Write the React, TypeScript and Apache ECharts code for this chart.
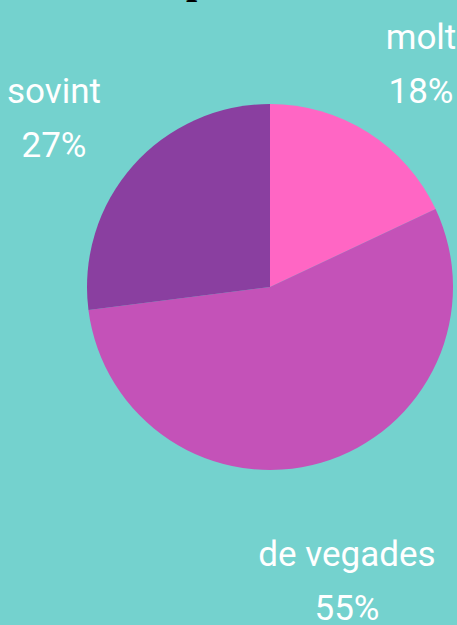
import React, { useEffect, useRef } from "react";
import * as echarts from "echarts";

const categories = ["molt", "de vegades", "sovint"];
const values = [18, 55, 27];
const colors = ["#FF66C4", "#C452B8", "#8A3FA0"];

export default function App() {
  const ref = useRef<HTMLDivElement>(null);
  useEffect(() => {
    if (!ref.current) return;
    const chart = echarts.init(ref.current, undefined, { renderer: "svg" });
    const labelCenters: Record<number, [number, number]> = {
      0: [421, 64],
      1: [347, 581],
      2: [54, 118],
    };
    chart.setOption({
      animation: false,
      backgroundColor: "#74D2CE",
      graphic: [
        {
          type: "text",
          x: 186,
          y: -41,
          style: {
            text: "p",
            font: "bold 40px 'Liberation Serif', serif",
            fill: "#000000",
          },
        },
      ],
      series: [
        {
          type: "pie",
          center: [270, 287],
          radius: 183,
          startAngle: 90,
          clockwise: true,
          data: categories.map((c, i) => ({
            name: c,
            value: values[i],
            itemStyle: { color: colors[i] },
          })),
          label: {
            show: true,
            position: "outside",
            formatter: (p: any) => `${p.name}\n${p.value}%`,
            color: "#ffffff",
            fontFamily: "Roboto",
            fontWeight: 400,
            fontSize: 35,
            lineHeight: 54,
            align: "center",
            overflow: "none",
            width: 200,
          },
          labelLine: { show: false },
          labelLayout: (params: any) => {
            const c = labelCenters[params.dataIndex];
            return { x: c[0], y: c[1], align: "center", verticalAlign: "middle" };
          },
          emphasis: { disabled: true },
        },
      ],
    });
    return () => chart.dispose();
  }, []);
  return (
    <div
      ref={ref}
      style={{ position: "fixed", left: 0, top: 0, width: 457, height: 625 }}
    />
  );
}
